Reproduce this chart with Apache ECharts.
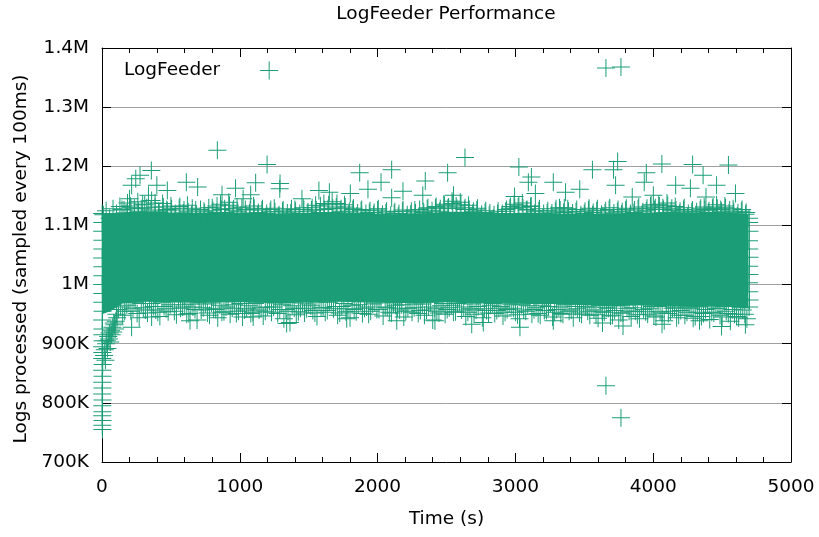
<!DOCTYPE html>
<html>
<head>
<meta charset="utf-8">
<script src="https://cdn.jsdelivr.net/npm/echarts@6/dist/echarts.min.js"></script>
<style>html,body{margin:0;padding:0;background:#fff;}#c{width:819px;height:537px;}</style>
</head>
<body>
<div id="c"></div>
<script>
// ---- data (values in thousands of logs per 100ms sample) ----
const xTickValues = [0, 1000, 2000, 3000, 4000, 5000];
const xTickLabels = ['0', '1000', '2000', '3000', '4000', '5000'];
const yTickValues = [700, 800, 900, 1000, 1100, 1200, 1300, 1400];
const yTickLabels = ['700K', '800K', '900K', '1M', '1.1M', '1.2M', '1.3M', '1.4M'];

// dense band envelope
const bandT    = [0, 60, 150, 300, 500, 700, 900, 1100, 1300, 1500, 1700, 1900, 2100, 2300, 2500, 2700, 2900, 3100, 3300, 3500, 3700, 3900, 4100, 4300, 4500, 4690];
const coreTop  = [1120, 1121, 1122, 1124, 1122, 1121, 1122, 1121, 1120, 1121, 1123, 1120, 1119, 1120, 1123, 1123, 1120, 1122, 1120, 1119, 1120, 1121, 1123, 1122, 1123, 1119];
const bandBot  = [950, 955, 968, 971, 970, 969, 970, 970, 968, 970, 971, 970, 969, 969, 970, 968, 968, 967, 967, 965, 963, 965, 963, 962, 963, 960];
const bandMidHi = 1030;
const bandMidLo = 1010;

// samples along the top of the band
const topEdge = [[10,1118],[30,1125],[55,1112],[80,1128],[105,1120],[130,1132],[160,1126],[185,1138],[210,1130],[235,1122],[260,1140],[285,1128],[310,1135],[335,1119],[360,1142],[385,1131],[410,1124],[440,1137],[470,1127],[500,1133],[530,1116],[560,1129],[590,1121],[620,1134],[650,1118],[680,1126],[710,1113],[740,1124],[770,1119],[800,1130],[830,1122],[860,1136],[890,1128],[920,1139],[950,1125],[980,1131],[1010,1117],[1040,1127],[1070,1121],[1100,1133],[1130,1118],[1160,1126],[1190,1114],[1220,1123],[1250,1129],[1280,1116],[1310,1124],[1340,1112],[1370,1121],[1400,1127],[1430,1115],[1460,1130],[1490,1120],[1520,1126],[1550,1134],[1580,1122],[1610,1137],[1640,1128],[1670,1140],[1700,1131],[1730,1124],[1760,1135],[1790,1119],[1820,1127],[1850,1116],[1880,1125],[1910,1113],[1940,1122],[1970,1118],[2000,1126],[2030,1114],[2060,1121],[2090,1110],[2120,1120],[2150,1116],[2180,1124],[2210,1112],[2240,1119],[2270,1126],[2300,1115],[2330,1123],[2360,1128],[2390,1117],[2420,1130],[2450,1124],[2480,1136],[2510,1129],[2540,1141],[2570,1133],[2600,1139],[2630,1127],[2660,1134],[2690,1120],[2720,1126],[2750,1114],[2780,1122],[2810,1117],[2840,1112],[2870,1120],[2900,1115],[2930,1124],[2960,1129],[2990,1136],[3020,1131],[3050,1138],[3080,1126],[3110,1132],[3140,1120],[3170,1125],[3200,1114],[3230,1121],[3260,1117],[3290,1124],[3320,1130],[3350,1122],[3380,1128],[3410,1116],[3440,1123],[3470,1112],[3500,1120],[3530,1126],[3560,1118],[3590,1125],[3620,1113],[3650,1121],[3680,1127],[3710,1116],[3740,1123],[3770,1119],[3800,1126],[3830,1114],[3860,1122],[3890,1128],[3920,1118],[3950,1125],[3980,1133],[4010,1127],[4040,1136],[4070,1130],[4100,1138],[4130,1125],[4160,1132],[4190,1120],[4220,1127],[4250,1115],[4280,1123],[4310,1118],[4340,1126],[4370,1131],[4400,1122],[4430,1129],[4460,1135],[4490,1127],[4520,1133],[4550,1121],[4580,1128],[4610,1116],[4640,1124],[4670,1119],[4695,1112]];
const topEdge2 = [[145,1127],[175,1121],[205,1133],[235,1129],[265,1124],[295,1136],[325,1130],[355,1126],[385,1138],[415,1122],[445,1131],[475,1125],[505,1128],[535,1120],[565,1132],[595,1126],[625,1123],[655,1129],[685,1119],[715,1127],[745,1121],[775,1130],[805,1125],[835,1133],[865,1127],[895,1122],[925,1134],[955,1128],[985,1123],[1015,1130],[1045,1119],[1075,1126],[1105,1129],[1135,1122],[1165,1128],[1195,1120],[1225,1127],[1255,1123],[1285,1118],[1315,1126],[1345,1121],[1375,1128],[1405,1124],[1435,1120],[1465,1127],[1495,1123],[1525,1130],[1555,1126],[1585,1133],[1615,1127],[1645,1135],[1675,1129],[1705,1137],[1735,1128],[1765,1131],[1795,1124],[1825,1129],[1855,1121],[1885,1127],[1915,1120],[1945,1125],[1975,1122],[2005,1128],[2035,1119],[2065,1124],[2095,1117],[2125,1123],[2155,1120],[2185,1126],[2215,1118],[2245,1124],[2275,1121],[2305,1127],[2335,1122],[2365,1130],[2395,1125],[2425,1132],[2455,1128],[2485,1134],[2515,1131],[2545,1137],[2575,1129],[2605,1135],[2635,1130],[2665,1127],[2695,1124],[2725,1129],[2755,1119],[2785,1125],[2815,1121],[2845,1118],[2875,1124],[2905,1120],[2935,1127],[2965,1132],[2995,1129],[3025,1134],[3055,1130],[3085,1127],[3115,1133],[3145,1124],[3175,1128],[3205,1120],[3235,1125],[3265,1121],[3295,1128],[3325,1126],[3355,1130],[3385,1124],[3415,1121],[3445,1127],[3475,1118],[3505,1124],[3535,1129],[3565,1122],[3595,1128],[3625,1119],[3655,1125],[3685,1130],[3715,1121],[3745,1127],[3775,1123],[3805,1129],[3835,1120],[3865,1126],[3895,1131],[3925,1123],[3955,1129],[3985,1135],[4015,1130],[4045,1133],[4075,1127],[4105,1134],[4135,1129],[4165,1126],[4195,1124],[4225,1130],[4255,1120],[4285,1126],[4315,1123],[4345,1129],[4375,1127],[4405,1125],[4435,1131],[4465,1129],[4495,1124],[4525,1130],[4555,1126],[4585,1123],[4615,1121],[4645,1127],[4675,1122]];

// samples along the bottom of the band
const bottomEdge = [[120,958],[150,948],[180,965],[210,955],[240,970],[270,944],[300,961],[330,952],[360,968],[390,957],[420,946],[450,963],[480,954],[510,971],[540,949],[570,960],[600,966],[630,951],[660,962],[690,940],[720,957],[750,967],[780,948],[810,959],[840,944],[870,953],[900,962],[930,950],[960,966],[990,955],[1020,945],[1050,960],[1080,951],[1110,968],[1140,957],[1170,947],[1200,962],[1230,953],[1260,969],[1290,958],[1320,942],[1350,955],[1380,964],[1410,949],[1440,960],[1470,952],[1500,967],[1530,956],[1560,946],[1590,961],[1620,953],[1650,970],[1680,959],[1710,948],[1740,963],[1770,954],[1800,944],[1830,958],[1860,966],[1890,951],[1920,962],[1950,955],[1980,969],[2010,958],[2040,947],[2070,961],[2100,952],[2130,965],[2160,957],[2190,945],[2220,960],[2250,953],[2280,967],[2310,956],[2340,948],[2370,962],[2400,940],[2430,955],[2460,964],[2490,950],[2520,961],[2550,953],[2580,968],[2610,957],[2640,946],[2670,959],[2700,950],[2730,963],[2760,944],[2790,956],[2820,965],[2850,951],[2880,960],[2910,947],[2940,958],[2970,966],[3000,953],[3030,942],[3060,957],[3090,964],[3120,950],[3150,961],[3180,948],[3210,956],[3240,963],[3270,945],[3300,958],[3330,951],[3360,966],[3390,955],[3420,944],[3450,959],[3480,950],[3510,962],[3540,948],[3570,957],[3600,943],[3630,954],[3660,961],[3690,947],[3720,956],[3750,940],[3780,952],[3810,960],[3840,946],[3870,955],[3900,942],[3930,958],[3960,950],[3990,963],[4020,945],[4050,954],[4080,939],[4110,951],[4140,960],[4170,944],[4200,956],[4230,948],[4260,961],[4290,943],[4320,953],[4350,946],[4380,958],[4410,941],[4440,952],[4470,960],[4500,945],[4530,955],[4560,938],[4590,950],[4620,944],[4650,957],[4680,942]];
const bottomEdge2 = [[135,962],[165,955],[195,971],[225,960],[255,951],[285,968],[315,957],[345,974],[375,963],[405,953],[435,970],[465,959],[495,966],[525,955],[555,973],[585,962],[615,950],[645,967],[675,958],[705,972],[735,961],[765,952],[795,969],[825,958],[855,965],[885,954],[915,971],[945,960],[975,951],[1005,968],[1035,957],[1065,964],[1095,953],[1125,970],[1155,961],[1185,955],[1215,972],[1245,962],[1275,951],[1305,966],[1335,958],[1365,973],[1395,960],[1425,954],[1455,969],[1485,959],[1515,964],[1545,952],[1575,970],[1605,961],[1635,956],[1665,973],[1695,963],[1725,952],[1755,968],[1785,959],[1815,965],[1845,954],[1875,971],[1905,960],[1935,950],[1965,967],[1995,958],[2025,972],[2055,962],[2085,953],[2115,969],[2145,960],[2175,966],[2205,955],[2235,972],[2265,961],[2295,951],[2325,967],[2355,957],[2385,970],[2415,960],[2445,952],[2475,968],[2505,958],[2535,965],[2565,954],[2595,971],[2625,962],[2655,953],[2685,967],[2715,957],[2745,970],[2775,959],[2805,952],[2835,968],[2865,956],[2895,963],[2925,953],[2955,969],[2985,960],[3015,949],[3045,966],[3075,955],[3105,971],[3135,958],[3165,951],[3195,965],[3225,956],[3255,968],[3285,953],[3315,962],[3345,950],[3375,967],[3405,957],[3435,963],[3465,952],[3495,968],[3525,955],[3555,962],[3585,949],[3615,965],[3645,953],[3675,960],[3705,948],[3735,964],[3765,952],[3795,967],[3825,955],[3855,961],[3885,949],[3915,966],[3945,954],[3975,960],[4005,947],[4035,963],[4065,952],[4095,966],[4125,955],[4155,961],[4185,948],[4215,964],[4245,953],[4275,959],[4305,946],[4335,962],[4365,951],[4395,965],[4425,953],[4455,960],[4485,948],[4515,963],[4545,951],[4575,958],[4605,946],[4635,961],[4665,950]];

// right end of the band
const rightEdge = [[4696,1105],[4698,1090],[4695,1074],[4697,1060],[4699,1046],[4696,1031],[4698,1017],[4695,1003],[4697,988],[4699,974],[4696,962]];

// warm-up at the start of the run
const rampPoints = [[1,1120],[2,1105],[1,1090],[3,1075],[2,1060],[1,1045],[3,1030],[2,1015],[1,1000],[3,985],[2,970],[4,955],[1,940],[3,925],[2,915],[4,905],[1,895],[3,885],[2,875],[5,865],[1,855],[4,845],[2,835],[3,825],[1,815],[4,805],[2,795],[3,785],[1,778],[4,770],[2,762],[3,755],[15,880],[20,890],[25,872],[30,900],[35,905],[40,892],[45,912],[50,908],[55,918],[60,903],[65,922],[70,915],[75,928],[80,920],[90,932],[100,938],[110,944],[95,925],[85,935],[105,950]];

// isolated samples
const outliers = [[837,1227],[358,1193],[276,1185],[245,1179],[215,1168],[398,1168],[474,1159],[612,1173],[694,1165],[1198,1203],[1115,1172],[969,1163],[871,1152],[1292,1171],[1079,1152],[1870,1189],[2102,1194],[2025,1173],[1930,1161],[2184,1158],[2346,1175],[2508,1189],[2634,1215],[2328,1151],[2102,1147],[3025,1199],[3116,1182],[3094,1173],[3275,1173],[3467,1161],[3364,1156],[2994,1149],[3559,1194],[3742,1208],[3712,1194],[3727,1168],[3950,1189],[4063,1204],[3935,1173],[4286,1203],[4362,1185],[4270,1163],[4163,1168],[4546,1202],[4460,1168],[4597,1154],[4383,1148],[3145,1154],[4001,1151],[3848,1148],[1290,1162],[1574,1159],[1650,1156],[1802,1154],[1451,1145],[2551,1151],[200,1145],[337,1151],[1024,1145],[3657,1366],[3766,1368],
  [215,928],[639,939],[360,945],[1097,945],[1340,934],[1364,936],[1776,942],[2139,939],[2416,939],[2683,933],[3033,928],[3275,939],[2767,936],[3781,930],[4064,933],[4669,932],[4336,939],[3632,935],[4496,929],
  [3657,829],[3766,775]];

// ---- chart ----
const FONT = 'DejaVu Sans';
const FS = 18.5;
const GREEN = '#1b9e77';
const crossPath = 'path://M0,8.5H18V9.5H0Z M8.5,0H9.5V18H8.5Z';

const chart = echarts.init(document.getElementById('c'), null, {renderer: 'canvas'});
const scatterData = [].concat(topEdge, topEdge2, bottomEdge, bottomEdge2, rightEdge, rampPoints, outliers);

const option = {
  animation: false,
  backgroundColor: '#fff',
  textStyle: {fontFamily: FONT},
  title: {
    text: 'LogFeeder Performance', left: 446, top: 5, textAlign: 'center', padding: 0,
    textStyle: {fontFamily: FONT, fontSize: FS, fontWeight: 'normal', color: '#000'}
  },
  legend: {
    data: [{name: 'LogFeeder', icon: crossPath}],
    left: 124, top: 61, align: 'right', itemWidth: 18, itemHeight: 18, padding: 0,
    selectedMode: false,
    textStyle: {fontFamily: FONT, fontSize: FS, color: '#000', padding: [0, 35, 0, 0]}
  },
  grid: {left: 102, right: 28, top: 48, bottom: 75, containLabel: false},
  xAxis: [{
    type: 'value', min: 0, max: 5000, interval: 1000, position: 'bottom',
    axisLine: {show: true, onZero: false, lineStyle: {color: '#000', width: 1}},
    axisTick: {show: true, inside: true, length: 9, lineStyle: {color: '#000'}},
    minorTick: {show: true, splitNumber: 5, length: 5, lineStyle: {color: '#000'}},
    splitLine: {show: false},
    axisLabel: {color: '#000', fontFamily: FONT, fontSize: FS, margin: 16,
      formatter: v => xTickLabels[xTickValues.indexOf(v)]},
    name: 'Time (s)', nameLocation: 'middle', nameGap: 48,
    nameTextStyle: {fontFamily: FONT, fontSize: FS, color: '#000'}
  }, {
    type: 'value', min: 0, max: 5000, interval: 1000, position: 'top',
    axisLine: {show: true, onZero: false, lineStyle: {color: '#000', width: 1}},
    axisTick: {show: true, inside: true, length: 9, lineStyle: {color: '#000'}},
    minorTick: {show: true, splitNumber: 5, length: 5, lineStyle: {color: '#000'}},
    splitLine: {show: false},
    axisLabel: {show: false}
  }],
  yAxis: [{
    type: 'value', min: 700, max: 1400, interval: 100, position: 'left',
    axisLine: {show: true, onZero: false, lineStyle: {color: '#000', width: 1}},
    axisTick: {show: true, inside: true, length: 9, lineStyle: {color: '#000'}},
    splitLine: {show: true, lineStyle: {color: '#a0a0a0', width: 1}},
    axisLabel: {color: '#000', fontFamily: FONT, fontSize: FS, margin: 13,
      formatter: v => yTickLabels[yTickValues.indexOf(v)]},
    name: 'Logs processed (sampled every 100ms)', nameLocation: 'middle', nameGap: 71,
    nameTextStyle: {fontFamily: FONT, fontSize: FS, color: '#000', padding: [0, 8, 0, 0]}
  }, {
    type: 'value', min: 700, max: 1400, interval: 100, position: 'right',
    axisLine: {show: true, onZero: false, lineStyle: {color: '#000', width: 1}},
    axisTick: {show: true, inside: true, length: 9, lineStyle: {color: '#000'}},
    splitLine: {show: false},
    axisLabel: {show: false}
  }],
  series: [{
    name: 'band-low', type: 'line', silent: true, z: 1,
    data: bandT.map((t, i) => [t, bandBot[i]]),
    symbol: 'none', lineStyle: {width: 0, opacity: 0},
    areaStyle: {color: GREEN, opacity: 1, origin: bandMidHi}
  }, {
    name: 'band-core', type: 'line', silent: true, z: 1,
    data: bandT.map((t, i) => [t, coreTop[i]]),
    symbol: 'none', lineStyle: {width: 0, opacity: 0},
    areaStyle: {color: GREEN, opacity: 1, origin: bandMidLo}
  }, {
    name: 'LogFeeder', type: 'scatter', silent: true, clip: false, z: 3,
    symbol: crossPath, symbolSize: 18,
    itemStyle: {color: GREEN, opacity: 1},
    data: scatterData
  }]
};
chart.setOption(option);
</script>
</body>
</html>
